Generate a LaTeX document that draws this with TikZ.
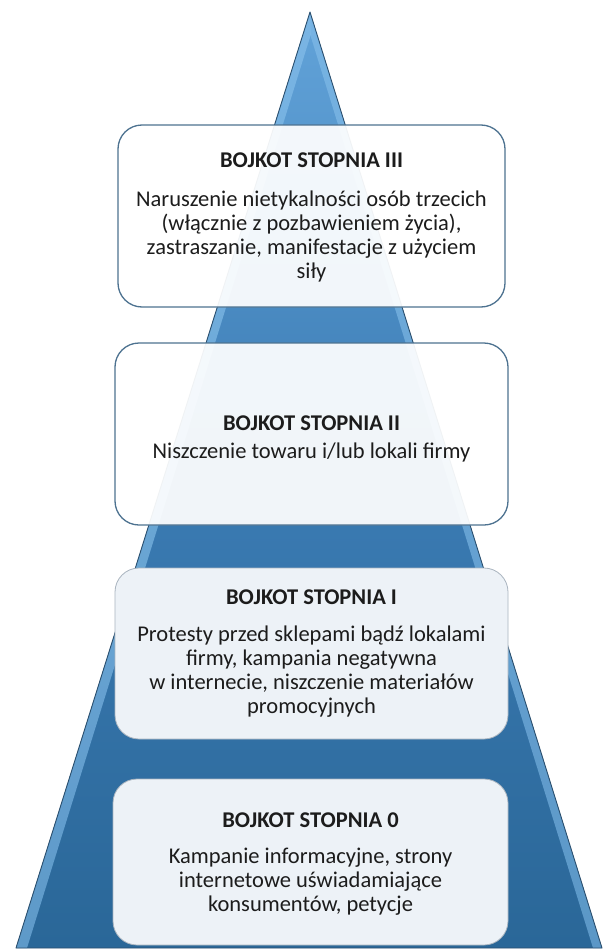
\documentclass[tikz,border=0pt]{standalone}
\usepackage{fontspec}
\setmainfont{Carlito}
\begin{document}
\begin{tikzpicture}[x=1pt,y=-1pt,
  pyrline/.style={draw=pyrEdge,line width=0.9pt,line join=round},
  glassbox/.style={rectangle,rounded corners=24pt,fill=white,fill opacity=0.93,
    draw=glassEdge,draw opacity=1,line width=1.3pt},
  solidbox/.style={rectangle,rounded corners=24pt,fill=boxFill,
    draw=solidEdge,line width=0.8pt},
  boxtext/.style={align=center,text=textInk,font=\fontsize{22.5}{24}\selectfont,inner sep=0pt}
]
\definecolor{pyrTop}{HTML}{62A3D9}
\definecolor{pyrMid}{HTML}{3B7BB3}
\definecolor{pyrBot}{HTML}{2A6798}
\definecolor{pyrEdge}{HTML}{2B4F6E}
\definecolor{pyrLight}{HTML}{7DB8E6}
\definecolor{glassEdge}{HTML}{4D7290}
\definecolor{solidEdge}{HTML}{A9B4BF}
\definecolor{boxFill}{HTML}{EDF2F7}
\definecolor{textInk}{HTML}{1C1C1C}

\useasboundingbox (0,0) rectangle (606,950);
\fill[white] (0,0) rectangle (606,950);

% pyramid corners
\coordinate (apex) at (310,12);
\coordinate (baseL) at (16,948);
\coordinate (baseR) at (602,948);

% pyramid body with vertical shading
\shade[top color=pyrTop,bottom color=pyrBot,middle color=pyrMid]
  (apex) -- (baseR) -- (baseL) -- cycle;
% lit bevel strips along both slanted edges
\shade[top color=pyrLight,bottom color=pyrLight!70!pyrBot,opacity=0.9]
  (apex) -- (baseL) -- (27,948) -- (311,34) -- cycle;
\shade[top color=pyrLight,bottom color=pyrLight!75!pyrBot,opacity=0.8]
  (apex) -- (baseR) -- (593,948) -- (310,34) -- cycle;
\draw[pyrline] (apex) -- (baseR) -- (baseL) -- cycle;

% level boxes
\node[glassbox,minimum width=387pt,minimum height=182pt] (b3) at (311.5,216) {};
\node[glassbox,minimum width=393pt,minimum height=182pt] (b2) at (311.5,434) {};
\node[solidbox,minimum width=393pt,minimum height=171pt] (b1) at (311.5,653.5) {};
\node[solidbox,minimum width=395pt,minimum height=166pt] (b0) at (310.5,862) {};

% level texts
\node[boxtext] (t3) at (311.5,217) {{\bfseries BOJKOT STOPNIA III}\\[15pt]
  Naruszenie nietykalności osób trzecich\\
  (włącznie z pozbawieniem życia),\\
  zastraszanie, manifestacje z użyciem\\
  siły};
\node[boxtext] (t2) at (311.5,439) {{\bfseries BOJKOT STOPNIA II}\\[4pt]
  Niszczenie towaru i/lub lokali firmy};
\node[boxtext] (t1) at (311.5,654) {{\bfseries BOJKOT STOPNIA I}\\[13pt]
  Protesty przed sklepami bądź lokalami\\
  firmy, kampania negatywna\\
  w internecie, niszczenie materiałów\\
  promocyjnych};
\node[boxtext] (t0) at (310.5,864) {{\bfseries BOJKOT STOPNIA 0}\\[12pt]
  Kampanie informacyjne, strony\\
  internetowe uświadamiające\\
  konsumentów, petycje};
\end{tikzpicture}
\end{document}
